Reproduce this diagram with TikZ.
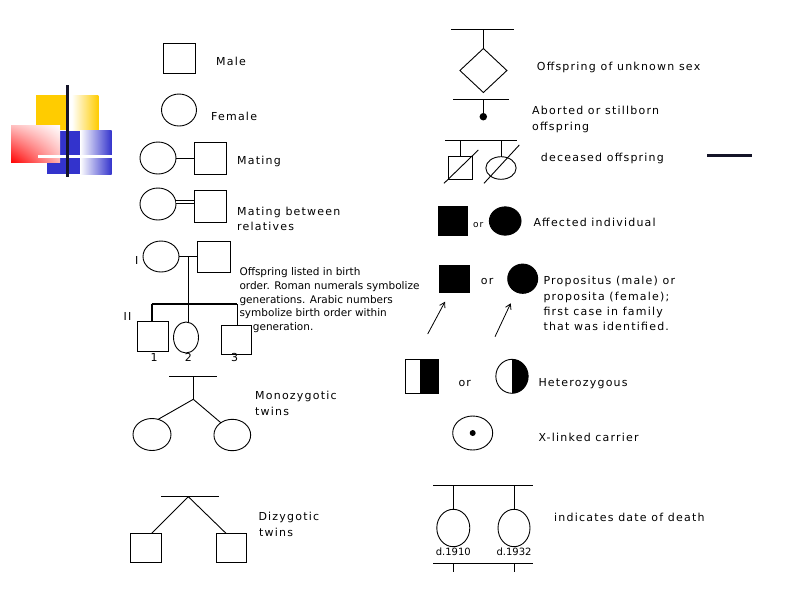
\documentclass[tikz,border=0pt]{standalone}
\usepackage{fontspec}
\setmainfont{DejaVu Sans}[LetterSpace=11]
\newfontfamily\smallf{DejaVu Sans}
\usetikzlibrary{shapes.geometric,arrows.meta,shadings}
\definecolor{yellowA}{RGB}{255,204,0}
\definecolor{blueA}{RGB}{51,51,204}
\definecolor{barA}{RGB}{20,20,40}
\tikzset{
  sym/.style={draw, line width=0.9pt, inner sep=0pt, outer sep=0pt},
  msq/.style={sym, rectangle},
  fel/.style={sym, ellipse},
  sz/.style 2 args={minimum width=#1, minimum height=#2},
  ln/.style={line width=0.9pt},
  lbl/.style={anchor=base west, inner sep=0pt, font=\fontsize{11}{13}\selectfont},
  clbl/.style={anchor=base, inner sep=0pt, font=\fontsize{11}{13}\selectfont},
  slbl/.style={anchor=base west, inner sep=0pt, font=\smallf\fontsize{10.5}{12}\selectfont},
  dlbl/.style={anchor=base, inner sep=0pt, font=\smallf\fontsize{10}{12}\selectfont},
  pointer/.style={line width=0.8pt, -{Straight Barb[length=5pt,width=6pt]}}
}
\begin{document}
\begin{tikzpicture}[x=1pt,y=-1pt]
\useasboundingbox (0,0) rectangle (794,595);
% ---------- decoration ----------
\fill[yellowA] (36,95) rectangle (66.7,130);
\shade[left color=white,right color=yellowA] (71.7,95) rectangle (98.3,130);
\fill[blueA] (46.7,130.7) rectangle (80,174);
\shade[left color=white,right color=blueA] (80,130.7) rectangle (111.7,174);
\shade[lower left=red, upper right=white, upper left=red!25!white, lower right=red!30!white] (11,125) rectangle (60,162.7);
\draw[white, line width=3pt] (38.3,156) -- (128.3,156);
\draw[barA, line width=3pt] (67.7,85) -- (67.7,177.3);
% ---------- left column ----------
\node[msq, sz={32pt}{30pt}] (male) at (179,58) {};
\node[lbl] (tmale) at (216,65) {Male};
\node[fel, sz={35pt}{32pt}] (female) at (179,110) {};
\node[lbl] (tfemale) at (211,120.7) {Female};
\node[fel, sz={36pt}{32pt}] (mf) at (158,158) {};
\node[msq, sz={32.5pt}{32pt}] (mm) at (210.5,158) {};
\draw[ln] (mf.east) -- (mm.west);
\node[lbl] (tmating) at (237,164) {Mating};
\node[fel, sz={36pt}{32pt}] (rf) at (158,204) {};
\node[msq, sz={32.5pt}{32pt}] (rm) at (210.5,206) {};
\draw[line width=0.8pt, double, double distance=2.6pt] ([yshift=2pt]rf.east) -- ([yshift=2pt]rf.east -| rm.west);
\node[lbl] (trel1) at (237,215.7) {Mating between};
\node[lbl] (trel2) at (237,230) {relatives};
% offspring block
\node[fel, sz={36pt}{31pt}] (g1f) at (161,256.5) {};
\node[msq, sz={32.7pt}{30.3pt}] (g1m) at (213.7,257) {};
\draw[ln] (g1f.east) -- (g1f.east -| g1m.west);
\coordinate (dropA) at (188.3,256.5);
\coordinate (sibL) at (151.7,304);
\coordinate (sibR) at (237.3,304);
\coordinate (sibM) at (188.3,304);
\draw[ln] (dropA) -- (sibM);
\draw[line width=1.2pt] (sibL) -- (sibR);
\node[msq, sz={31.3pt}{30.7pt}] (c1) at (153,336.3) {};
\node[fel, sz={25pt}{31pt}] (c2) at (186,337.5) {};
\node[msq, sz={30pt}{28.7pt}] (c3) at (236,340) {};
\draw[line width=1.6pt] (sibL) -- (sibL |- c1.north);
\draw[ln] (sibM) -- (sibM |- c2.north);
\draw[ln] (sibR) -- (sibR |- c3.north);
\node[lbl] (tI) at (135,264) {I};
\node[lbl] (tII) at (123.5,320) {II};
\node[clbl] (n1) at (154,361) {1};
\node[clbl] (n2) at (188.3,361) {2};
\node[clbl] (n3) at (234.5,361) {3};
\node[slbl] (o1) at (239.3,275) {Offspring listed in birth};
\node[slbl] (o2) at (239.3,289) {order. Roman numerals symbolize};
\node[slbl] (o3) at (239.3,303.3) {generations. Arabic numbers};
\node[slbl] (o4) at (239.3,316.7) {symbolize birth order within};
\node[slbl] (o5) at (252.7,330) {generation.};
% monozygotic
\coordinate (mzL) at (169.3,376);
\coordinate (mzR) at (216.7,376);
\coordinate (mzT) at (193.3,376);
\coordinate (mzA) at (193.3,399.3);
\draw[ln] (mzL) -- (mzR);
\draw[ln] (mzT) -- (mzA);
\node[fel, sz={38pt}{32pt}] (mz1) at (152,434.5) {};
\node[fel, sz={36.7pt}{31.4pt}] (mz2) at (232.3,435) {};
\draw[ln] (mzA) -- (mz1.68);
\draw[ln] (mzA) -- (mz2.133);
\node[lbl] (tmz1) at (255,399.3) {Monozygotic};
\node[lbl] (tmz2) at (255,415) {twins};
% dizygotic
\coordinate (dzL) at (161,496.7);
\coordinate (dzR) at (219,496.7);
\coordinate (dzA) at (188.3,496.7);
\draw[ln] (dzL) -- (dzR);
\node[msq, sz={31pt}{29.4pt}] (dz1) at (146.2,548) {};
\node[msq, sz={30.7pt}{29.4pt}] (dz2) at (231.3,548) {};
\draw[ln] (dzA) -- ([xshift=5.5pt]dz1.north);
\draw[ln] (dzA) -- ([xshift=-5.3pt]dz2.north);
\node[lbl] (tdz1) at (258.3,520.7) {Dizygotic};
\node[lbl] (tdz2) at (259,536.7) {twins};
% ---------- right column ----------
\coordinate (usL) at (451,29.3);
\coordinate (usR) at (514,29.3);
\node[sym, diamond, sz={47pt}{44pt}] (us) at (483.4,70.5) {};
\draw[ln] (usL) -- (usR);
\draw[ln] (us.north |- usL) -- (us.north);
\node[lbl] (tus) at (536.7,70.7) {Offspring of unknown sex};
\coordinate (abL) at (453.3,99);
\coordinate (abR) at (509.3,99);
\node[circle, fill, inner sep=0pt, minimum size=7.5pt] (ab) at (483.3,116.7) {};
\draw[ln] (abL) -- (abR);
\draw[ln] (ab |- abL) -- (ab);
\node[lbl] (tab1) at (532,114) {Aborted or stillborn};
\node[lbl] (tab2) at (532,130) {offspring};
\coordinate (deL) at (445,140);
\coordinate (deR) at (517.3,140);
\draw[ln] (deL) -- (deR);
\node[msq, sz={24pt}{22.6pt}] (dsq) at (460.5,168) {};
\node[fel, sz={30.3pt}{22.6pt}] (del) at (501,168) {};
\draw[ln] (dsq.north |- deL) -- (dsq.north);
\draw[ln] (del.north |- deL) -- (del.north);
\draw[ln] (444,183.3) -- (478.3,150);
\draw[ln] (484,183.3) -- (519.3,145);
\node[lbl] (tde) at (540.7,161.7) {deceased offspring};
\draw[barA, line width=3pt] (707,155) -- (752,155);
% affected
\node[msq, fill, sz={29pt}{28.3pt}] (af1) at (452.8,221) {};
\node[anchor=base west, inner sep=0pt, font=\fontsize{9}{11}\selectfont] (tor1) at (473,227.7) {or};
\node[fel, fill, sz={31.7pt}{28.3pt}] (af2) at (505.2,221) {};
\node[lbl] (taf) at (533.3,226.7) {Affected individual};
% propositus
\node[msq, fill, sz={30pt}{27.7pt}] (pr1) at (454,279) {};
\node[lbl] (tor2) at (480.7,284) {or};
\node[fel, fill, sz={30pt}{29.3pt}] (pr2) at (522.7,278.7) {};
\coordinate (ar1s) at (427.7,334);
\coordinate (ar1e) at (445,301.7);
\coordinate (ar2s) at (495,336.7);
\coordinate (ar2e) at (510.7,303.3);
\draw[pointer] (ar1s) -- (ar1e);
\draw[pointer] (ar2s) -- (ar2e);
\node[lbl] (tpr1) at (543.3,284) {Propositus (male) or};
\node[lbl] (tpr2) at (543.3,300) {proposita (female);};
\node[lbl] (tpr3) at (543.3,315.7) {first case in family};
\node[lbl] (tpr4) at (543.3,330.7) {that was identified.};
% heterozygous
\node[msq, sz={33pt}{34pt}] (het1) at (421.5,376.3) {};
\fill (het1.north west -| 420,0) rectangle (het1.south east);
\begin{scope}
  \clip (512,376.3) ellipse [x radius=16.15pt, y radius=17pt];
  \fill (512,355) rectangle (535,398);
\end{scope}
\node[fel, sz={32.3pt}{34pt}] (het2) at (512,376.3) {};
\node[lbl] (tor3) at (458.3,386.7) {or};
\node[lbl] (thet) at (538.3,386.7) {Heterozygous};
% x-linked carrier
\node[fel, sz={40pt}{34pt}] (xl) at (472.7,433) {};
\node[circle, fill, inner sep=0pt, minimum size=6pt] (xld) at (xl.center) {};
\node[lbl] (txl) at (538.3,441.7) {X-linked carrier};
% date of death
\coordinate (ddL) at (433.3,485);
\coordinate (ddR) at (532.7,485);
\draw[ln] (ddL) -- (ddR);
\node[fel, sz={33pt}{37.4pt}] (dd1) at (453.3,528) {};
\node[fel, sz={32pt}{37.4pt}] (dd2) at (514,528) {};
\draw[ln] (dd1.north |- ddL) -- (dd1.north);
\draw[ln] (dd2.north |- ddL) -- (dd2.north);
\node[dlbl] (tdd1) at (453.3,555) {d.1910};
\node[dlbl] (tdd2) at (514,555) {d.1932};
\coordinate (dbL) at (433.3,563.3);
\coordinate (dbR) at (532.7,563.3);
\draw[ln] (dbL) -- (dbR);
\draw[ln] (dd1.north |- dbL) -- ++(0,9);
\draw[ln] (dd2.north |- dbL) -- ++(0,9);
\node[lbl] (tdd) at (554,521.7) {indicates date of death};
\end{tikzpicture}
\end{document}
